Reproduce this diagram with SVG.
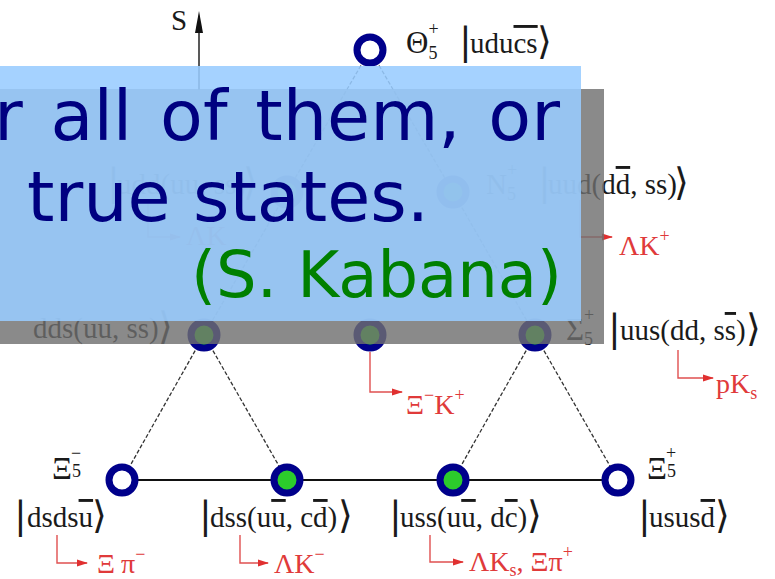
<svg xmlns="http://www.w3.org/2000/svg" width="775" height="579" viewBox="0 0 775 579">
<defs>
<style>
.lbl{font-family:"Liberation Serif","DejaVu Serif",serif;font-size:29px;fill:#1a1a1a}
.gk{font-size:31px}
.dl{font-family:"DejaVu Serif","Liberation Serif",serif;font-size:38px;fill:#1a1a1a}
.s{font-size:18px}
.red{font-family:"Liberation Serif","DejaVu Serif",serif;font-size:28px;fill:#e03a3a}
.rl{stroke:#e05050;stroke-width:1.4;fill:none}
.dash{stroke:#333;stroke-width:1.3;stroke-dasharray:4 2;fill:none}
.solid{stroke:#111;stroke-width:2.2;fill:none}
.node circle{stroke:#00008b;stroke-width:7}
.open circle{fill:#fff}
.cry circle{fill:#2ccc2c}
.ov{font-family:"DejaVu Sans",sans-serif;font-size:70px;fill:#000080}
</style>
<marker id="ra" markerWidth="11" markerHeight="8" refX="10" refY="4" orient="auto" markerUnits="userSpaceOnUse"><path d="M0,0.5 L11,4 L0,7.5 Z" fill="#e03030"/></marker>
</defs>
<rect width="775" height="579" fill="#fff"/>

<g id="axis">
<line x1="199" y1="90" x2="199" y2="32" stroke="#222" stroke-width="1.5"/>
<path d="M199,11 L203,33 L195,33 Z" fill="#111"/>
<text class="lbl" x="171" y="30">S</text>
</g>

<g id="connectors">
<line class="dash" x1="370" y1="50" x2="287" y2="192"/>
<line class="dash" x1="370" y1="50" x2="453" y2="192"/>
<line class="dash" x1="287" y1="192" x2="204" y2="335"/>
<line class="dash" x1="453" y1="192" x2="535" y2="335"/>
<line class="dash" x1="204" y1="335" x2="122" y2="480"/>
<line class="dash" x1="204" y1="335" x2="287" y2="480"/>
<line class="dash" x1="535" y1="335" x2="453" y2="480"/>
<line class="dash" x1="535" y1="335" x2="618" y2="480"/>
<line class="solid" x1="122" y1="480" x2="618" y2="480"/>
<path class="rl" d="M148,202 V237 H180" marker-end="url(#ra)"/>
<path class="rl" d="M580,200 V237 H612" marker-end="url(#ra)"/>
<path class="rl" d="M370,352 V392 H402" marker-end="url(#ra)"/>
<path class="rl" d="M678,350 V378 H713" marker-end="url(#ra)"/>
<path class="rl" d="M57,535 V563 H87" marker-end="url(#ra)"/>
<path class="rl" d="M240,535 V563 H268" marker-end="url(#ra)"/>
<path class="rl" d="M430,535 V562 H463" marker-end="url(#ra)"/>
</g>

<g id="theta" class="node open"><circle cx="370" cy="50" r="13"/>
<text class="lbl gk" x="406" y="53">Θ<tspan class="s" dy="6">5</tspan><tspan class="s" dx="-9" dy="-24">+</tspan></text>
<text class="dl" x="459" y="54">|</text>
<text class="lbl" x="470" y="53">udu<tspan text-decoration="overline">cs</tspan></text>
<text class="dl" x="537" y="54">⟩</text>
</g>

<g id="n0" class="node cry"><circle cx="287" cy="192" r="13"/>
<text class="dl" x="107" y="195">|</text>
<text class="lbl" x="117" y="194">udd(uu, ss)</text>
<text class="dl" x="243" y="195">⟩</text>
<text class="red" x="186" y="245">ΛK</text>
</g>

<g id="nplus" class="node cry"><circle cx="453" cy="192" r="13"/>
<text class="lbl" x="486" y="194">N<tspan class="s" dy="6">5</tspan><tspan class="s" dx="-9" dy="-24">+</tspan></text>
<text class="dl" x="538" y="195">|</text>
<text class="lbl" x="548" y="194">uud(d<tspan text-decoration="overline">d</tspan>, ss)</text>
<text class="dl" x="674" y="195">⟩</text>
<text class="red" x="619" y="255">ΛK<tspan class="s" dy="-13">+</tspan></text>
</g>

<g id="sigmam" class="node cry"><circle cx="204" cy="335" r="13"/>
<text class="lbl" x="33" y="338">dds(uu, ss)</text>
<text class="dl" x="158" y="339">⟩</text>
</g>

<g id="xi0" class="node cry"><circle cx="370" cy="335" r="13"/>
<text class="red" x="406" y="414">Ξ<tspan class="s" dy="-13">−</tspan><tspan dy="13">K</tspan><tspan class="s" dy="-13">+</tspan></text>
</g>

<g id="sigmap" class="node cry"><circle cx="535" cy="335" r="13"/>
<text class="lbl gk" x="566" y="340">Σ<tspan class="s" dy="5">5</tspan><tspan class="s" dx="-9" dy="-24">+</tspan></text>
<text class="dl" x="608" y="341">|</text>
<text class="lbl" x="620" y="340">uus(dd, s<tspan text-decoration="overline">s</tspan>)</text>
<text class="dl" x="746" y="341">⟩</text>
<text class="red" x="716" y="393">pK<tspan class="s" dy="6">s</tspan></text>
</g>

<g id="xim" class="node open"><circle cx="122" cy="480" r="13"/>
<text class="lbl gk" x="52" y="479">Ξ<tspan class="s" dy="-2">5</tspan><tspan class="s" dx="-10" dy="-18">−</tspan></text>
<text class="dl" x="14" y="528">|</text>
<text class="lbl" x="27" y="527">dsds<tspan text-decoration="overline">u</tspan></text>
<text class="dl" x="92" y="528">⟩</text>
<text class="red" x="97" y="573">Ξ<tspan dx="6">π</tspan><tspan class="s" dy="-13">−</tspan></text>
</g>

<g id="xib1" class="node cry"><circle cx="287" cy="480" r="13"/>
<text class="dl" x="199" y="528">|</text>
<text class="lbl" x="210" y="527">dss(u<tspan text-decoration="overline">u</tspan>, c<tspan text-decoration="overline">d</tspan>)</text>
<text class="dl" x="338" y="528">⟩</text>
<text class="red" x="274" y="573">ΛK<tspan class="s" dy="-13">−</tspan></text>
</g>

<g id="xib2" class="node cry"><circle cx="453" cy="480" r="13"/>
<text class="dl" x="389" y="528">|</text>
<text class="lbl" x="400" y="527">uss(u<tspan text-decoration="overline">u</tspan>, d<tspan text-decoration="overline">c</tspan>)</text>
<text class="dl" x="527" y="528">⟩</text>
<text class="red" x="469" y="571">ΛK<tspan class="s" dy="5">s</tspan><tspan dy="-5">, Ξπ</tspan><tspan class="s" dy="-13">+</tspan></text>
</g>

<g id="xip" class="node open"><circle cx="618" cy="480" r="13"/>
<text class="lbl gk" x="647" y="479">Ξ<tspan class="s" dy="-2">5</tspan><tspan class="s" dx="-10" dy="-18">+</tspan></text>
<text class="dl" x="638" y="528">|</text>
<text class="lbl" x="649" y="527">usus<tspan text-decoration="overline">d</tspan></text>
<text class="dl" x="715" y="528">⟩</text>
</g>

<g id="overlay">
<rect x="-10" y="89" width="614" height="255" fill="#6f6f6f" opacity="0.81"/>
<rect x="-10" y="66" width="591" height="255" fill="#99ccff" opacity="0.88"/>
<text class="ov" x="-6" y="140" word-spacing="5.5">r all of them, or</text>
<text class="ov" x="27" y="221">true states.</text>
<text class="ov" x="562" y="297" text-anchor="end" style="fill:#008000;font-size:64px">(S. Kabana)</text>
</g>
</svg>
